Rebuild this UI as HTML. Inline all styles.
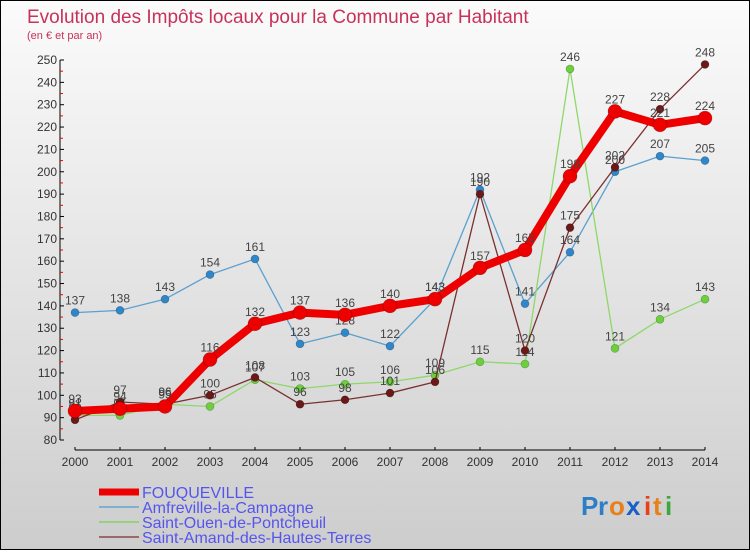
<!DOCTYPE html>
<html><head><meta charset="utf-8"><style>
html,body{margin:0;padding:0}
body{width:750px;height:550px;overflow:hidden}
#wrap{position:relative;width:748px;height:548px;border:1px solid #000;background:linear-gradient(#fbfbfb,#cdcdcd);font-family:"Liberation Sans",sans-serif}
</style></head><body>
<div id="wrap">
<svg id="chart" width="748" height="548" xmlns="http://www.w3.org/2000/svg">
<text x="26" y="22" font-size="19" fill="#c8325a">Evolution des Impôts locaux pour la Commune par Habitant</text>
<text x="26" y="38" font-size="11" fill="#c8325a">(en € et par an)</text>
<g id="axes"></g>
<g id="series"></g>
<g id="legend"></g>
<g font-size="26" font-weight="bold">
<text x="580" y="514" fill="#2a7fc8">P</text><text x="597" y="514" fill="#2a7fc8">r</text><text x="608" y="514" fill="#e8801a">o</text><text x="625" y="514" fill="#1a5fc8">x</text><text x="643" y="514" fill="#e8401a">i</text><text x="652" y="514" fill="#e8801a">t</text><text x="664" y="514" fill="#3aa83a">i</text>
</g>
</svg>
</div>
<script>
const years=[2000,2001,2002,2003,2004,2005,2006,2007,2008,2009,2010,2011,2012,2013,2014];
const fouqueville=[93,94,95,116,132,137,136,140,143,157,165,198,227,221,224];
const amfreville=[137,138,143,154,161,123,128,122,143,192,141,164,200,207,205];
const saintOuen=[91,91,96,95,107,103,105,106,109,115,114,246,121,134,143];
const saintAmand=[89,97,96,100,108,96,98,101,106,190,120,175,202,228,248];
const yTicks=[80,90,100,110,120,130,140,150,160,170,180,190,200,210,220,230,240,250];
const seriesNames=["FOUQUEVILLE","Amfreville-la-Campagne","Saint-Ouen-de-Pontcheuil","Saint-Amand-des-Hautes-Terres"];
const NS="http://www.w3.org/2000/svg";
function X(i){return 74+i*(630/(years.length-1));}
function Y(v){return 439-(v-80)*(380/170);}
function mk(tag,attrs,parent){const e=document.createElementNS(NS,tag);for(const k in attrs)e.setAttribute(k,attrs[k]);parent.appendChild(e);return e;}
const axes=document.getElementById('axes');
let a=mk('line',{x1:59,y1:Y(250),x2:59,y2:Y(80),stroke:'#000','stroke-width':1},axes);


a=mk('line',{x1:74,y1:449,x2:X(14),y2:449,stroke:'#000','stroke-width':1},axes);


yTicks.forEach(v=>{
 mk('line',{x1:59,y1:Y(v),x2:63,y2:Y(v),stroke:'#000'},axes);
 if(v<250)mk('line',{x1:59,y1:Y(v+5),x2:62,y2:Y(v+5),stroke:'#e00'},axes);
 const t=mk('text',{x:56,y:Y(v)+4,'text-anchor':'end','font-size':12,fill:'#333'},axes);
 t.textContent=v;
 
 
});
years.forEach((yr,i)=>{
 mk('line',{x1:X(i),y1:446,x2:X(i),y2:449,stroke:'#000'},axes);
 const t=mk('text',{x:X(i),y:465,'text-anchor':'middle','font-size':12,fill:'#333'},axes);
 t.textContent=yr;
 
 
});
const sg=document.getElementById('series');
function draw(data,color,dot,w,r,name){
 const g=mk('g',{},sg);
 
 
 mk('polyline',{points:data.map((v,i)=>X(i)+','+Y(v)).join(' '),fill:'none',stroke:color,'stroke-width':w,'stroke-linejoin':'round'},g);
 data.forEach((v,i)=>{
  const c=mk('circle',{cx:X(i),cy:Y(v),r:r,fill:dot,stroke:'rgba(0,0,0,0.3)','stroke-width':0.6},g);
  
  
  const t=mk('text',{x:X(i),y:Y(v)-8,'text-anchor':'middle','font-size':12,fill:'#444'},g);
  t.textContent=v;
  
  
 });
}
draw(amfreville,'#5aa0d0','#2f86c8',1.3,4,'series-amfreville');
draw(saintOuen,'#8ed86a','#6cd03c',1.3,4,'series-saint-ouen');
draw(saintAmand,'#7a3030','#6a1818',1.3,4,'series-saint-amand');
draw(fouqueville,'#ee0000','#ee0000',8,7,'series-fouqueville');
const lg=document.getElementById('legend');
const lcols=['#ee0000','#7fb0d0','#99d080','#9a6a6a'];
const lws=[7,2,2,2];
seriesNames.forEach((n,i)=>{
 const y=491+i*15;
 const g=mk('g',{},lg);
 
 
 mk('line',{x1:98,y1:y,x2:138,y2:y,stroke:lcols[i],'stroke-width':lws[i]},g);
 const t=mk('text',{x:141,y:y+6,'font-size':16,fill:'#5555ee'},g);
 t.textContent=n;
});
</script>
</body></html>
